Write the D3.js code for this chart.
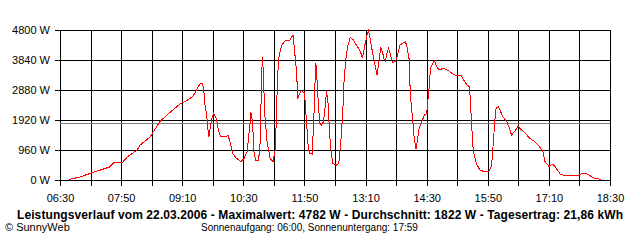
<!DOCTYPE html>
<html>
<head>
<meta charset="utf-8">
<script src="https://cdn.jsdelivr.net/npm/d3@7"></script>
<style>
  body { margin: 0; background: #fff; }
  svg text { font-family: "Liberation Sans", Arial, sans-serif; fill: #000; }
</style>
</head>
<body>
<svg id="chart" width="640" height="240"></svg>
<script>
// measured points of the power curve (time of day, watts)
const times = ["06:42","06:56","07:11","07:35","07:41","07:52","07:58","08:11","08:15","08:28",
  "08:32","08:41","08:50","09:07","09:16","09:24","09:29","09:33","09:36","09:38",
  "09:40","09:42","09:44","09:45","09:47","09:49","09:51","09:55","09:57","10:00",
  "10:08","10:10","10:13","10:16","10:21","10:27","10:31","10:35","10:37","10:39",
  "10:40","10:42","10:44","10:46","10:50","10:52","10:54","10:55","10:56","10:58",
  "11:01","11:05","11:09","11:12","11:14","11:16","11:20","11:25","11:31","11:35",
  "11:38","11:40","11:41","11:44","11:46","11:50","11:51","11:53","11:55","11:57",
  "12:00","12:02","12:04","12:05","12:06","12:08","12:10","12:12","12:15","12:17",
  "12:19","12:21","12:23","12:25","12:27","12:32","12:35","12:38","12:40","12:42",
  "12:45","12:47","12:50","12:54","12:58","13:03","13:06","13:09","13:12","13:14",
  "13:16","13:20","13:23","13:25","13:28","13:30","13:32","13:34","13:36","13:38",
  "13:40","13:42","13:45","13:49","13:52","13:55","13:59","14:02","14:04","14:07",
  "14:08","14:10","14:12","14:13","14:16","14:18","14:20","14:24","14:27","14:30",
  "14:31","14:33","14:35","14:40","14:43","14:46","14:52","14:57","15:03","15:08",
  "15:15","15:20","15:23","15:26","15:27","15:29","15:31","15:35","15:40","15:49",
  "15:52","15:55","15:57","16:00","16:01","16:04","16:06","16:10","16:15","16:18",
  "16:21","16:26","16:30","16:32","16:39","16:45","16:52","16:58","17:02","17:05",
  "17:10","17:15","17:19","17:25","17:29","17:49","17:55","18:00","18:06","18:10",
  "18:18"];
const watts = [16,96,224,416,570,570,736,960,1120,1376,
  1536,1872,2080,2432,2544,2672,2896,3072,3104,2944,
  2368,2080,1546,1386,1760,1974,2134,1942,1654,1386,
  1386,1440,1174,854,694,586,694,906,1386,1866,
  2166,1866,906,640,640,1184,3360,3936,3520,2144,
  1248,694,586,1014,2656,3872,4304,4470,4480,4640,
  3904,3360,2592,2774,2870,2784,2464,1760,1024,848,
  832,1760,3200,3734,3408,2528,1824,1744,1866,2336,
  2848,2432,1440,896,534,480,528,1344,2080,3264,
  4048,4304,4560,4480,4320,4128,3894,4304,4640,4782,
  4512,3968,3616,3360,3894,4240,4112,3888,3808,4054,
  4214,4054,3760,3786,4000,4320,4384,4426,4304,3872,
  3104,2304,1888,1472,992,1280,1632,1888,2080,2122,
  2400,2880,3574,3814,3648,3520,3574,3520,3414,3344,
  3344,3136,3040,2986,2624,1696,928,528,304,256,
  288,464,1120,2144,2314,2336,2230,2016,1856,1680,
  1440,1574,1728,1654,1494,1334,1216,1056,928,586,
  438,512,400,182,160,160,214,192,106,54,
  22];

const yTicks = [0, 960, 1920, 2880, 3840, 4800];
const xGrid = ["06:30","07:10","07:50","08:30","09:10","09:50","10:30","11:10","11:50","12:30",
  "13:10","13:50","14:30","15:10","15:50","16:30","17:10","17:50","18:30"];
const xLabels = ["06:30","07:50","09:10","10:30","11:50","13:10","14:30","15:50","17:10","18:30"];
const average = 1822;

const title = "Leistungsverlauf vom 22.03.2006 - Maximalwert: 4782 W - Durchschnitt: 1822 W - Tagesertrag: 21,86 kWh";
const credit = "\u00A9 SunnyWeb";
const sunInfo = "Sonnenaufgang: 06:00, Sonnenuntergang: 17:59";

const parse = d3.timeParse("%H:%M");
const fmt = d3.timeFormat("%H:%M");
const svg = d3.select("#chart");

const plotLeft = 60, plotRight = 610, plotTop = 30, plotBottom = 180;

const x = d3.scaleTime()
  .domain([parse("06:30"), parse("18:30")])
  .range([plotLeft, plotRight]);
const y = d3.scaleLinear()
  .domain([0, 4800])
  .range([plotBottom, plotTop]);

// horizontal grid + y labels
const yAxis = d3.axisLeft(y)
  .tickValues(yTicks)
  .tickSize(-(plotRight - plotLeft + 5))
  .tickPadding(5)
  .tickFormat((d) => d + " W");
const gy = svg.append("g")
  .attr("transform", `translate(${plotLeft - 5},0)`)
  .call(yAxis);

// vertical grid + time labels
const xAxis = d3.axisBottom(x)
  .tickValues(xGrid.map(parse))
  .tickSize(-(plotBottom - plotTop + 6))
  .tickPadding(8)
  .tickFormat((d) => xLabels.includes(fmt(d)) ? fmt(d) : "");
const gx = svg.append("g")
  .attr("transform", `translate(0,${plotBottom + 6})`)
  .call(xAxis);

[gx, gy].forEach((g) => {
  g.select(".domain").remove();
  g.selectAll("line").attr("stroke", "#000").attr("shape-rendering", "crispEdges");
  g.selectAll("text").style("font-size", "11px").attr("fill", "#000");
});

// average line
const ya = Math.round(y(average)) + 0.5;
svg.append("line")
  .attr("x1", plotLeft).attr("x2", plotRight)
  .attr("y1", ya).attr("y2", ya)
  .attr("stroke", "#808080")
  .attr("shape-rendering", "crispEdges");

// power curve
const series = times.map((t, i) => ({ t: parse(t), w: watts[i] }));
const line = d3.line()
  .x((d) => x(d.t))
  .y((d) => y(d.w));
svg.append("path")
  .datum(series)
  .attr("d", line)
  .attr("fill", "none")
  .attr("stroke", "#ff0000")
  .attr("stroke-width", 1)
  .attr("shape-rendering", "crispEdges");

// footer texts
svg.append("text")
  .attr("x", 320)
  .attr("y", 219)
  .attr("text-anchor", "middle")
  .attr("textLength", 606)
  .attr("lengthAdjust", "spacing")
  .style("font-size", "12px")
  .style("font-weight", "bold")
  .text(title);

svg.append("text")
  .attr("x", 5)
  .attr("y", 231)
  .style("font-size", "11px")
  .text(credit);

svg.append("text")
  .attr("x", 201)
  .attr("y", 231)
  .style("font-size", "10px")
  .text(sunInfo);
</script>
</body>
</html>
